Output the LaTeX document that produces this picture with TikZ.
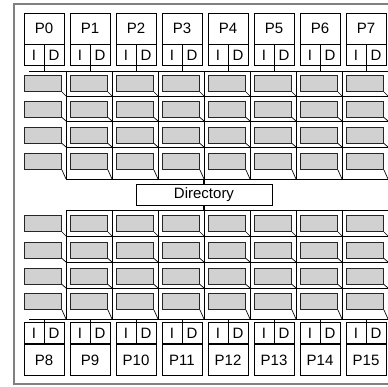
\documentclass[tikz,border=0pt]{standalone}
\usepackage{fontspec}
\setmainfont{Liberation Sans}
\usetikzlibrary{positioning}

\begin{document}
\begin{tikzpicture}[
  x=1pt,y=-1pt,
  wire/.style={line width=0.7pt},
  cpu/.style={draw,line width=0.7pt,minimum width=40pt,minimum height=31pt,inner sep=0pt,font=\fontsize{15}{18}\selectfont},
  port/.style={draw,line width=0.7pt,minimum width=20pt,minimum height=21pt,inner sep=0pt,font=\fontsize{15}{18}\selectfont},
  cache/.style={draw=black!85,line width=1pt,fill=black!18,minimum width=37pt,minimum height=16pt,inner sep=0pt,anchor=north west},
  dirbox/.style={draw,line width=0.7pt,minimum width=136pt,minimum height=21pt,inner sep=0pt,font=\fontsize{15}{18}\selectfont}
]
\clip (0,0) rectangle (388,386);
\draw[black!50,line width=1.2pt] (14,4) rectangle (400,384);

% processors, top and bottom
\foreach \k in {0,...,7}{
  \pgfmathsetmacro\xc{44+46*\k}
  \pgfmathtruncatemacro\n{\k+8}
  \node[cpu] (p\k) at (\xc,28.5) {P\k};
  \node[port,anchor=north west] (i\k) at (p\k.south west) {I};
  \node[port,anchor=north east] (d\k) at (p\k.south east) {D};
  \node[cpu] (p\n) at (\xc,360) {P\n};
  \node[port,anchor=south west] (i\n) at (p\n.north west) {I};
  \node[port,anchor=south east] (d\n) at (p\n.north east) {D};
}

% buses
\coordinate (tbus) at (29,71);
\coordinate (bbus) at (29,319);
\draw[wire] (tbus) -- (400,71);
\draw[wire] (bbus) -- (400,319);
\foreach \k in {0,...,7}{
  \pgfmathtruncatemacro\n{\k+8}
  \draw[wire] (i\k.south east) -- (i\k.south east |- tbus);
  \draw[wire] (i\n.north east) -- (i\n.north east |- bbus);
}

% grid
\foreach \y in {96,121,147,179,210,236,262,288}
  \draw[wire] (66,\y) -- (400,\y);
\foreach \k in {0,...,7}{
  \draw[wire] (66+46*\k,71) -- (66+46*\k,179);
  \draw[wire] (66+46*\k,210) -- (66+46*\k,319);
}

% cache lines
\foreach \t/\b [count=\r] in {75/96,100.5/121,126.5/147,153/179,215/236,241.5/262,267.5/288,293/319}
  \foreach \k in {0,...,7}{
    \node[cache] (c\r-\k) at (24+46*\k,\t) {};
    \draw[wire] (c\r-\k.south east) -- (66+46*\k,\b);
  }

% directory
\node[dirbox] (dir) at (204,194.5) {Directory};
\draw[line width=1.2pt] (dir.north) -- (dir.north |- 0,179);
\draw[line width=1.2pt] (dir.south) -- (dir.south |- 0,210);
\end{tikzpicture}
\end{document}
